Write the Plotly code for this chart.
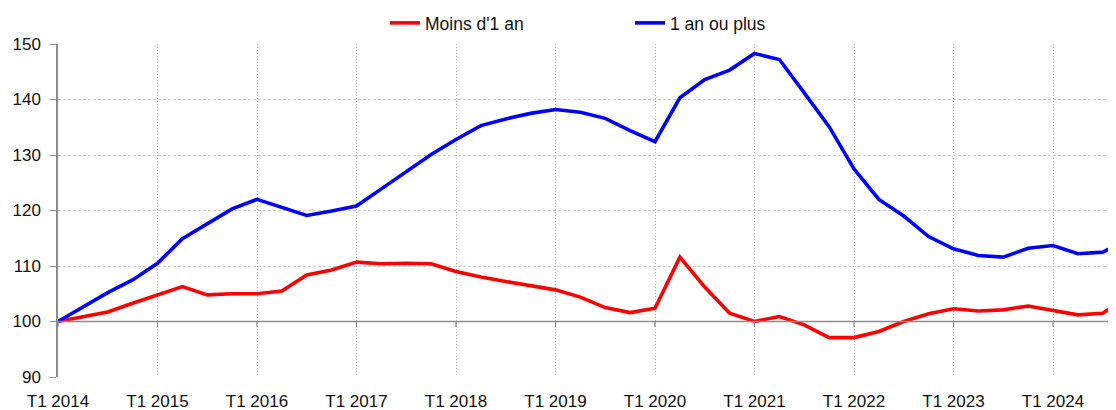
import plotly.graph_objects as go

years = list(range(2014, 2025))
quarters = [f"T{q} {y}" for y in years for q in range(1, 5)]
tick_labels = [f"T1 {y}" for y in years]

moins_1an = [100.0, 100.8, 101.7, 103.3, 104.8, 106.3, 104.8, 105.0, 105.0, 105.5,
             108.4, 109.3, 110.7, 110.4, 110.5, 110.4, 109.0, 108.0, 107.2, 106.4,
             105.7, 104.4, 102.5, 101.6, 102.4, 111.6, 106.2, 101.5, 100.0, 100.9,
             99.4, 97.1, 97.1, 98.2, 100.0, 101.4, 102.3, 101.9, 102.1, 102.8,
             102.0, 101.2, 101.5, 104.5]
un_an_plus = [100.0, 102.6, 105.2, 107.5, 110.5, 114.9, 117.6, 120.3, 122.0, 120.5,
              119.1, 119.9, 120.8, 123.9, 127.0, 130.1, 132.8, 135.3, 136.5, 137.5,
              138.2, 137.7, 136.6, 134.4, 132.4, 140.3, 143.6, 145.3, 148.3, 147.2,
              141.2, 135.1, 127.5, 122.0, 119.0, 115.3, 113.1, 111.9, 111.6, 113.2,
              113.7, 112.2, 112.5, 114.7]

FONT = "Liberation Sans"
OFF = 8                     # default page body margin in the browser
W, H = 1116 - OFF, 410 - OFF
ML, MT, MB = 58 - OFF, 44 - OFF, 33
PH = H - MT - MB
PW = W - ML
QPX = 24.875  # pixels per quarter in the reference
x_max = PW / QPX

fig = go.Figure()
fig.add_trace(go.Scatter(x=quarters, y=moins_1an, mode="lines", name="Moins d'1 an",
                         line=dict(color="#FF0000", width=3.6)))
fig.add_trace(go.Scatter(x=quarters, y=un_an_plus, mode="lines", name="1 an ou plus",
                         line=dict(color="#0000FF", width=3.6)))

# horizontal axis line at 100 (category axis crossing)
fig.add_shape(type="line", xref="paper", yref="y", x0=0, x1=1, y0=100, y1=100,
              line=dict(color="#8c8c8c", width=1.5), layer="above")
for t in tick_labels:
    fig.add_shape(type="line", xref="x", yref="y", x0=t, x1=t, y0=99.05, y1=100,
                  line=dict(color="#8c8c8c", width=1.3), layer="above")

fig.update_layout(
    width=W, height=H,
    margin=dict(l=ML, r=0, t=MT, b=MB, autoexpand=False),
    paper_bgcolor="white", plot_bgcolor="white",
    font=dict(family=FONT, size=17, color="#111111"),
    showlegend=True,
    legend=dict(orientation="h", x=(385 - 58) / PW, xanchor="left",
                y=(H - MB - (23 - OFF)) / PH, yanchor="middle",
                entrywidth=200, entrywidthmode="pixels",
                font=dict(family=FONT, size=17.5, color="#111111"),
                bgcolor="rgba(0,0,0,0)", borderwidth=0),
    xaxis=dict(type="category", range=[0, x_max], tickmode="array",
               tickvals=tick_labels, ticktext=tick_labels, automargin=False,
               showgrid=True, gridcolor="#b0b0b0", griddash="1px,2px", gridwidth=1,
               showline=False, ticks="", ticklabelstandoff=12,
               tickfont=dict(family=FONT, size=17, color="#111111"),
               zeroline=False, fixedrange=True),
    yaxis=dict(range=[90, 150], tick0=90, dtick=10, automargin=False,
               showgrid=True, gridcolor="#d0d0d0", griddash="3px,2px", gridwidth=1,
               showline=True, linecolor="#8c8c8c", linewidth=1.5,
               ticks="outside", ticklen=6, tickcolor="#8c8c8c", tickwidth=1.3,
               ticklabelstandoff=6,
               tickfont=dict(family=FONT, size=17, color="#111111"),
               zeroline=False, fixedrange=True),
)

fig.write_html("out.html")
